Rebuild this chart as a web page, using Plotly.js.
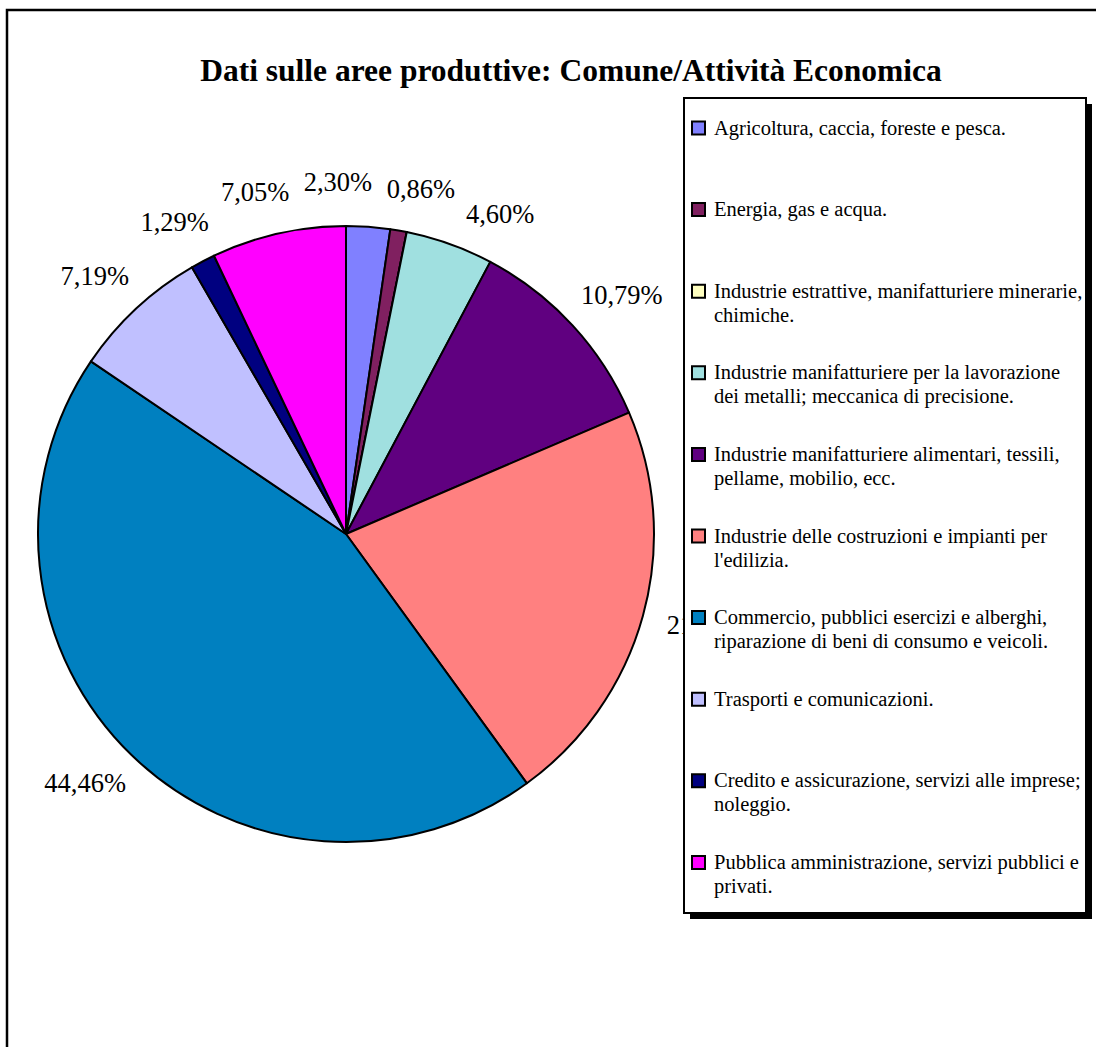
<!DOCTYPE html>
<html>
<head>
<meta charset="utf-8">
<script src="https://cdn.plot.ly/plotly-3.0.1.min.js"></script>
<style>html,body{margin:0;padding:0;background:#fff;}#chart{width:1096px;height:1047px;}</style>
</head>
<body>
<div id="chart"></div>
<script>
// ---------------- DATA ----------------
const chartTitle = "Dati sulle aree produttive: Comune/Attività Economica";
const categories = [
  "Agricoltura, caccia, foreste e pesca.",
  "Energia, gas e acqua.",
  "Industrie estrattive, manifatturiere minerarie,\nchimiche.",
  "Industrie manifatturiere per la lavorazione\ndei metalli; meccanica di precisione.",
  "Industrie manifatturiere alimentari, tessili,\npellame, mobilio, ecc.",
  "Industrie delle costruzioni e impianti per\nl'edilizia.",
  "Commercio, pubblici esercizi e alberghi,\nriparazione di beni di consumo e veicoli.",
  "Trasporti e comunicazioni.",
  "Credito e assicurazione, servizi alle imprese;\nnoleggio.",
  "Pubblica amministrazione, servizi pubblici e\nprivati."
];
const shares = [2.30, 0.86, 0.00, 4.60, 10.79, 21.46, 44.46, 7.19, 1.29, 7.05];
const sliceColors = ["#8080FF", "#802060", "#FFFFC0", "#A0E0E0", "#600080",
                     "#FF8080", "#0080C0", "#C0C0FF", "#000080", "#FF00FF"];

// ---------------- LAYOUT CONSTANTS ----------------
const W = 1096, H = 1047;
const CX = 346, CY = 534, RAD = 308;          // pie centre / radius in px
const LABEL_GAP = 28, MIN_SEP = 13;           // label placement rules
const SERIF = "Liberation Serif, Times New Roman, serif";
const LBL_SIZE = 26.5, LEG_SIZE = 20.5;
const LEG = {x0: 684, y0: 98, x1: 1086, y1: 913, shadow: 6,
             firstY: 128, step: 81.6, lineH: 24, boxX: 692, boxS: 13, textX: 712};

const px = x => x / W;
const py = y => 1 - y / H;
const fmt = v => v.toFixed(2).replace('.', ',') + '%';

// ---------------- LABEL POSITIONS (from data) ----------------
const total = shares.reduce((a, b) => a + b, 0);
let cum = 0;
const items = [];
shares.forEach((v, i) => {
  let mid = (cum + v / 2) / total * 360;
  cum += v;
  if (v > 0) items.push({i, ang: mid > 180 ? mid - 360 : mid, text: fmt(v)});
});
items.sort((a, b) => a.ang - b.ang);
for (let it = 0; it < 400; it++) {
  for (let k = 0; k < items.length; k++) {
    const a = items[k], b = items[(k + 1) % items.length];
    let diff = b.ang - a.ang;
    if (k === items.length - 1) diff += 360;
    if (diff < MIN_SEP) { const d = (MIN_SEP - diff) / 2; a.ang -= d; b.ang += d; }
  }
}
const lx = [], ly = [], lt = [];
items.forEach(o => {
  const t = o.ang * Math.PI / 180;
  const r0 = RAD + LABEL_GAP;
  const hw = o.text.length * 6.5, hh = 14;
  lx.push(CX + r0 * Math.sin(t) + hw * Math.sin(t));
  ly.push(CY - r0 * Math.cos(t) - hh * Math.cos(t));
  lt.push(o.text);
});

// ---------------- TRACES ----------------
const pieTrace = {
  type: 'pie',
  labels: categories.map(c => c.replace('\n', ' ')),
  values: shares,
  sort: false,
  direction: 'clockwise',
  rotation: 0,
  marker: {colors: sliceColors, line: {color: '#000', width: 2}},
  textinfo: 'none',
  hoverinfo: 'label+percent',
  showlegend: false,
  domain: {x: [px(CX - RAD), px(CX + RAD)], y: [py(CY + RAD), py(CY - RAD)]}
};
const labelTrace = {
  type: 'scatter', mode: 'text',
  x: lx, y: ly, text: lt,
  textposition: 'middle center',
  textfont: {family: SERIF, size: LBL_SIZE, color: '#000'},
  hoverinfo: 'skip', showlegend: false, cliponaxis: false
};

// ---------------- SHAPES / LEGEND ----------------
const shapes = [
  {type: 'rect', xref: 'paper', yref: 'paper', layer: 'above',
   x0: px(7), y0: py(10), x1: 1.02, y1: -0.02, line: {color: '#000', width: 2.5}},
  {type: 'rect', xref: 'paper', yref: 'paper', layer: 'above',
   x0: px(LEG.x0 + LEG.shadow), y0: py(LEG.y0 + LEG.shadow), x1: px(LEG.x1 + LEG.shadow), y1: py(LEG.y1 + LEG.shadow),
   fillcolor: '#000', line: {width: 0}},
  {type: 'rect', xref: 'paper', yref: 'paper', layer: 'above',
   x0: px(LEG.x0), y0: py(LEG.y0), x1: px(LEG.x1), y1: py(LEG.y1),
   fillcolor: '#fff', line: {color: '#000', width: 2}}
];
const annotations = [];
categories.forEach((c, i) => {
  const yc = LEG.firstY + i * LEG.step;
  shapes.push({type: 'rect', xref: 'paper', yref: 'paper', layer: 'above',
    x0: px(LEG.boxX), x1: px(LEG.boxX + LEG.boxS),
    y0: py(yc - LEG.boxS / 2), y1: py(yc + LEG.boxS / 2),
    fillcolor: sliceColors[i], line: {color: '#000', width: 2}});
  c.split('\n').forEach((line, k) => {
    annotations.push({xref: 'paper', yref: 'paper', x: px(LEG.textX), y: py(yc + k * LEG.lineH),
      xanchor: 'left', yanchor: 'middle', showarrow: false, text: line,
      font: {family: SERIF, size: LEG_SIZE, color: '#000'}});
  });
});

const layout = {
  width: W, height: H,
  margin: {l: 0, r: 0, t: 0, b: 0},
  paper_bgcolor: '#fff', plot_bgcolor: 'rgba(0,0,0,0)',
  showlegend: false,
  title: {text: chartTitle, x: px(571), xanchor: 'center', y: py(70), yanchor: 'middle',
          font: {family: SERIF, size: 31.5, weight: 'bold', color: '#000'}},
  xaxis: {range: [0, W], visible: false, fixedrange: true, domain: [0, 1]},
  yaxis: {range: [H, 0], visible: false, fixedrange: true, domain: [0, 1]},
  shapes: shapes,
  annotations: annotations
};

Plotly.newPlot('chart', [labelTrace, pieTrace], layout, {displayModeBar: false, staticPlot: true});
</script>
</body>
</html>
